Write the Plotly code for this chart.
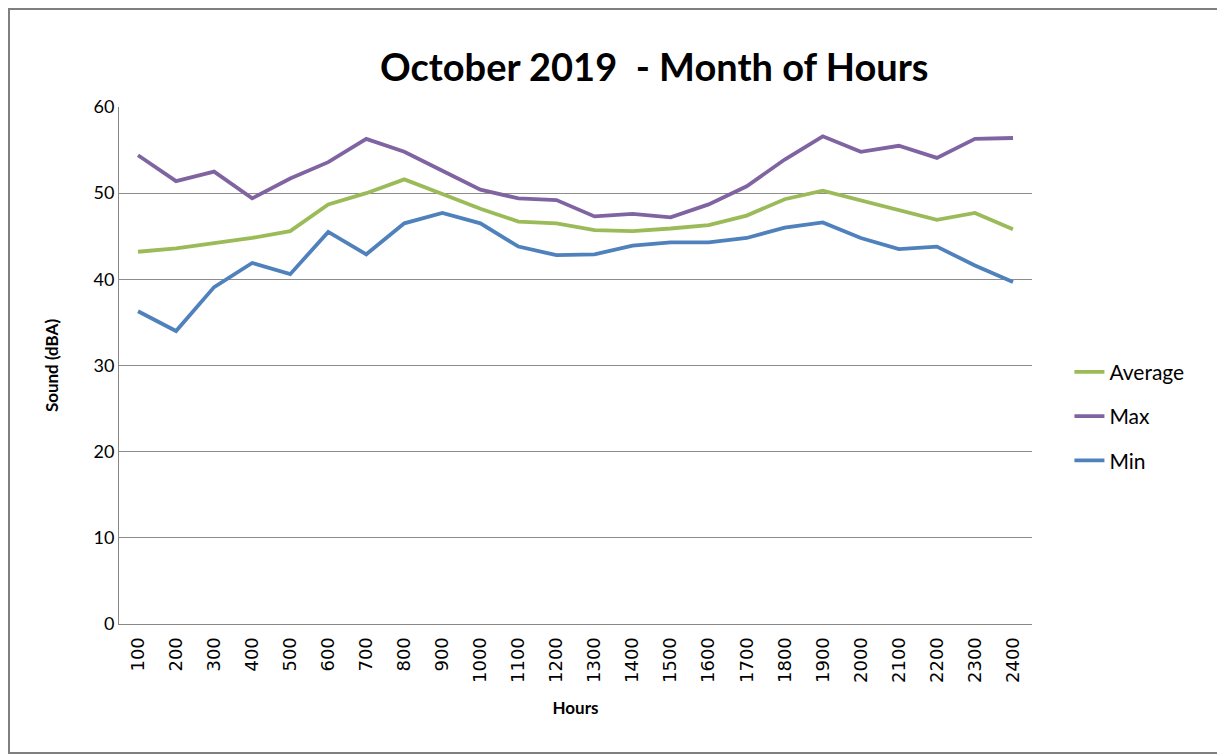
import plotly.graph_objects as go

hours = ["100", "200", "300", "400", "500", "600", "700", "800", "900", "1000", "1100", "1200",
         "1300", "1400", "1500", "1600", "1700", "1800", "1900", "2000", "2100", "2200", "2300", "2400"]
average = [43.2, 43.6, 44.2, 44.8, 45.6, 48.7, 50.0, 51.6, 49.9, 48.2, 46.7, 46.5,
           45.7, 45.6, 45.9, 46.3, 47.4, 49.3, 50.3, 49.2, 48.1, 46.9, 47.7, 45.8]
maximum = [54.4, 51.4, 52.5, 49.4, 51.7, 53.6, 56.3, 54.8, 52.6, 50.4, 49.4, 49.2,
           47.3, 47.6, 47.2, 48.7, 50.8, 53.9, 56.6, 54.8, 55.5, 54.1, 56.3, 56.4]
minimum = [36.3, 34.0, 39.1, 41.9, 40.6, 45.5, 42.9, 46.5, 47.7, 46.5, 43.8, 42.8,
           42.9, 43.9, 44.3, 44.3, 44.8, 46.0, 46.6, 44.8, 43.5, 43.8, 41.6, 39.7]

series = [("Average", average, "#9BBB59"), ("Max", maximum, "#8064A2"), ("Min", minimum, "#4F81BD")]

fig = go.Figure()
for name, vals, color in series:
    fig.add_trace(go.Scatter(x=hours, y=vals, mode="lines", name=name, legendgroup=name,
                             line=dict(color=color, width=3.8)))

W, H = 1217, 747
fig.update_layout(
    width=W, height=H,
    margin=dict(l=111, r=193, t=99, b=131),
    paper_bgcolor="white", plot_bgcolor="white",
    font=dict(family="Lato, Open Sans, sans-serif", color="black"),
    title=dict(text="<b>October 2019  - Month of Hours</b>", x=0.531, xanchor="center",
               y=0.92, yanchor="middle", font=dict(size=38, family="Lato, Open Sans, sans-serif")),
    showlegend=True,
    legend=dict(x=1.041, xanchor="left", y=0.402, yanchor="middle", tracegroupgap=14,
                font=dict(size=21, family="Lato, Open Sans, sans-serif"),
                bgcolor="rgba(0,0,0,0)"),
    xaxis=dict(type="category", range=[-0.5, len(hours) - 0.5], tickangle=-90, showgrid=False,
               showline=True, linecolor="#888888", linewidth=1,
               tickfont=dict(size=18, family="DejaVu Sans"), ticklabelstandoff=5,
               title=dict(text="<b>Hours</b>", font=dict(size=17), standoff=20)),
    yaxis=dict(range=[0, 60], dtick=10, showgrid=True, gridcolor="#8c8c8c", gridwidth=1,
               showline=True, linecolor="#888888", linewidth=1, zeroline=False,
               ticks="", tickfont=dict(size=18),
               title=dict(text="<b>Sound (dBA)</b>", font=dict(size=17), standoff=30)),
)

pw = W - 111 - 193
ph = H - 99 - 131
fig.add_shape(type="rect", xref="paper", yref="paper",
              x0=(1 - 111) / pw, x1=(1213 - 111) / pw,
              y0=(ph + 99 - 745) / ph, y1=(ph + 99 - 1) / ph,
              line=dict(color="#7f7f7f", width=2), layer="below")

fig.write_html("out.html")
